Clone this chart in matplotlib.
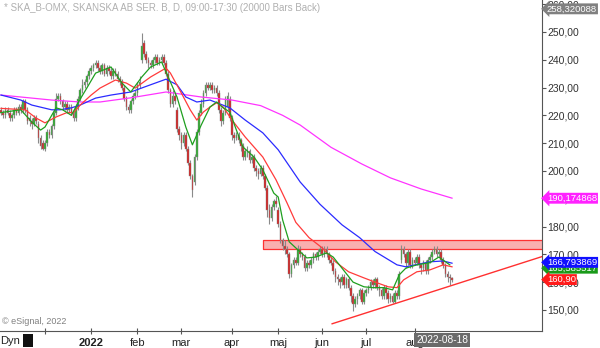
import matplotlib
matplotlib.use('Agg')
import matplotlib.pyplot as plt
import matplotlib.transforms as mtransforms

plt.rcParams['font.family'] = ['Liberation Sans', 'DejaVu Sans']

# daily candles, Nov 2021 - 2022-08-18
opens = [222, 221, 220, 222, 221, 219, 220, 222, 221, 223,
         222, 225, 222, 219, 218, 217, 219, 217, 212, 210,
         208, 210, 214, 213, 216, 221, 226, 227, 225, 223,
         224, 222, 223, 221, 219, 223, 226, 229, 231, 232,
         234, 236, 237, 238, 239, 237, 236, 238, 235, 237,
         236, 234, 236, 235, 233, 232, 230, 226, 223, 222,
         225, 227, 228, 231, 240, 246, 242, 240, 239, 238,
         240, 241, 239, 240, 241, 239, 235, 229, 224, 227,
         222, 215, 213, 210, 213, 208, 203, 198, 196, 205,
         214, 221, 224, 228, 231, 230, 231, 229, 230, 228,
         222, 218, 221, 223, 226, 219, 213, 212, 213, 211,
         209, 205, 207, 207, 204, 205, 201, 200, 199, 201,
         198, 194, 186, 183, 187, 189, 186, 181, 175, 173,
         172, 170, 163, 166, 168, 167, 172, 170, 169, 165,
         167, 166, 168, 170, 169, 171, 172, 170, 172, 170,
         168, 167, 164, 162, 161, 160, 162, 159, 161, 158,
         155, 152, 154, 155, 157, 153, 156, 157, 158, 160,
         159, 161, 158, 157, 155, 158, 156, 154, 155, 153,
         156, 155, 168, 172, 170, 167, 171, 166, 168, 167,
         169, 166, 165, 167, 164, 168, 169, 171, 172, 170,
         171, 168, 166, 163, 162, 161.5]
highs = [223, 222, 223, 223, 222, 221, 223, 223, 224, 224,
         226, 226, 223, 220, 219, 220, 220, 218, 213, 211,
         211, 215, 215, 217, 222, 228, 228, 228, 226, 225,
         225, 224, 224, 222, 224, 227, 230, 233, 233, 235,
         237, 238, 239, 240, 240, 238, 239, 239, 238, 238,
         237, 237, 237, 236, 234, 233, 231, 227, 224, 226,
         228, 229, 232, 234, 249.6, 247, 243, 241, 240, 241,
         242, 242, 241, 242, 242, 240, 236, 230, 229, 228,
         223, 216, 214, 214, 214, 209, 204, 199, 206, 215,
         222, 226, 229, 232, 232, 232, 232, 231, 231, 229,
         223, 222, 227, 228.5, 227, 220, 214, 214, 214, 212,
         210, 208, 209, 208, 206, 206, 202, 201, 202, 202,
         199, 195, 188, 188, 190, 191, 187, 182, 176, 175,
         173, 171, 167, 169, 169, 173.5, 173, 171, 170, 168,
         168, 169, 171, 171, 172, 173, 173, 173, 173, 171,
         169, 168, 165, 163, 162, 163, 163, 162, 162, 159,
         156, 155, 156, 158, 158, 157, 158, 159, 161, 161,
         162, 162, 159, 158, 159, 159, 157, 156, 156, 157,
         157, 164, 173.5, 173, 171, 172, 172, 169, 169, 170,
         170, 167, 168, 168, 169, 170, 172, 173, 173, 172,
         172, 169, 167, 164, 163, 162]
lows = [220, 219, 219, 220, 218, 218, 219, 220, 220, 221,
        221, 221, 217, 216, 215, 216, 217, 210, 208, 207.5,
        207, 209, 212, 212, 215, 220, 225, 224, 222, 222,
        221, 221, 220, 218, 218, 222, 225, 228, 230, 231,
        233, 235, 236, 237, 236, 235, 235, 234, 234, 235,
        233, 233, 234, 232, 231, 229, 225, 222, 221, 221,
        224, 226, 227, 230, 239, 241, 239, 237, 237, 237,
        239, 238, 238, 239, 238, 234, 228, 223, 223, 224,
        214, 211, 208, 209, 207, 202, 197, 190.6, 195, 204,
        213, 220, 223, 227, 229, 229, 228, 228, 227, 221,
        216, 217, 220, 222, 218, 211, 210, 211, 210, 207,
        204, 204, 205, 203, 203, 200, 198, 197, 198, 197,
        193, 183.5, 181, 182, 186, 187, 180, 174, 171.5, 170,
        169, 161.5, 162, 165, 166, 166, 169, 168, 164, 164,
        165, 165, 167, 168, 168, 170, 169, 169, 169, 167,
        166, 163, 160, 159, 158, 159, 158, 158, 157, 153,
        149.6, 151, 152, 154, 152, 152, 155, 156, 157, 158,
        158, 157, 155, 154, 154, 154, 152.5, 153, 152.5, 152.5,
        154, 154, 167, 169, 165, 166, 165, 165, 166, 166,
        165, 163, 164, 163, 163, 167, 168, 170, 169, 169,
        167, 165, 162, 160, 159, 160]
closes = [221, 220, 222, 221, 219, 220, 222, 221, 223, 222,
          225, 222, 218, 218, 217, 219, 218, 212, 209, 208,
          210, 214, 213, 216, 221, 226, 227, 225, 223, 224,
          222, 223, 221, 219, 223, 226, 229, 231, 232, 234,
          236, 237, 238, 239, 237, 236, 238, 235, 237, 236,
          234, 236, 235, 233, 232, 230, 226, 223, 222, 225,
          227, 228, 231, 232, 245, 242, 240, 239, 238, 240,
          241, 239, 240, 241, 239, 235, 229, 224, 227, 225,
          215, 213, 210, 213, 208, 203, 198, 193, 205, 214,
          221, 224, 228, 231, 230, 231, 229, 230, 228, 222,
          218, 221, 226, 227, 219, 213, 212, 213, 211, 209,
          205, 207, 207, 204, 205, 201, 200, 199, 201, 198,
          194, 186, 183, 187, 189, 188, 181, 175, 173, 172,
          170, 163, 166, 168, 167, 172, 170, 169, 165, 167,
          166, 168, 170, 169, 171, 172, 170, 172, 170, 168,
          167, 164, 162, 161, 160, 162, 159, 161, 158, 155,
          152, 154, 155, 157, 153, 156, 157, 158, 160, 159,
          161, 158, 157, 155, 158, 156, 154, 155, 153, 156,
          155, 163, 172, 170, 167, 171, 166, 168, 167, 169,
          166, 165, 167, 164, 168, 169, 171, 172, 170, 171,
          168, 166, 163, 162, 161.5, 160.9]

# moving averages, read at a few bars each (bar index, price)
ma10_idx = [0, 9, 14, 18, 20, 25, 28, 32, 35, 39, 43, 50, 55, 59, 64, 68, 73, 76,
            80, 84, 87, 91, 95, 98, 101, 104, 107, 110, 115, 119, 124, 126, 128,
            131, 134, 139, 143, 148, 151, 155, 160, 165, 169, 174, 178, 181, 184,
            189, 195, 199, 204]
ma10_val = [221, 222, 217.6, 214.7, 215.8, 222.7, 222, 220, 224.5, 229.8, 235.2,
            237.4, 231.6, 228.4, 233.8, 237.4, 239.2, 233.8, 226.6, 215.8, 209.4,
            216.5, 223, 224.8, 222.7, 221.2, 214.7, 208.6, 205, 200.4, 192, 190.6,
            182.4, 174.5, 172.3, 168.7, 169, 170.5, 169, 165, 160, 158.3, 158, 158,
            157.2, 162.6, 165, 166.2, 167, 169, 166.2]
ma20_idx = [0, 11, 16, 20, 25, 30, 33, 36, 41, 45, 52, 57, 61, 68, 75, 77, 82, 86,
            89, 92, 95, 98, 101, 105, 111, 119, 125, 130, 134, 140, 146, 152, 158,
            165, 170, 176, 180, 183, 189, 195, 201, 205]
ma20_val = [222.5, 222, 219, 217.3, 219.4, 221, 221, 223.7, 227.3, 229.8, 232.7,
            231.6, 229.8, 233.8, 237, 235.2, 228, 222, 218.3, 221.2, 223, 224.5,
            223, 218.3, 212.2, 205, 196.8, 188.5, 181.5, 176, 172.3, 167.3, 163.7,
            161.5, 160, 158.3, 158, 160.8, 163.7, 164.4, 166.2, 165.5]
ma50_idx = [0, 9, 14, 23, 27, 32, 36, 43, 50, 59, 68, 75, 80, 84, 89, 95, 104, 111,
            119, 126, 136, 145, 155, 163, 170, 180, 184, 195, 201, 205]
ma50_val = [227.3, 225.5, 223.7, 222, 222, 222.7, 223.7, 226.2, 227.3, 228.4, 231,
            233, 231, 226.6, 224.8, 225.5, 222.7, 218.3, 213.7, 207.6, 196, 188,
            180.6, 176, 171, 166.2, 165.5, 167.3, 167.6, 166.8]
ma200_idx = [0, 23, 36, 45, 59, 75, 91, 105, 118, 128, 136, 150, 164, 177, 191, 205]
ma200_val = [227.3, 225.5, 224.8, 224.8, 226.3, 228.4, 226.6, 225.5, 223.5, 220,
             216.5, 208.5, 202.5, 197.5, 193.5, 190.2]

month_starts = [20, 41, 62, 82, 105, 126, 146, 166, 188]
month_labels = ['', '2022', 'feb', 'mar', 'apr', 'maj', 'jun', 'jul', 'aug']

zone_start, zone_low, zone_high = 119, 171.9, 175.2
trend_x = [150.5, 246]
trend_y = [145.0, 169.2]

last_labels = [('258,320088', 258.32, '#808080'),
               ('190,174868', 190.17, '#ff22ff'),
               ('165,585517', 165.0, '#1a9a1a'),
               ('166,793869', 167.1, '#1010ff'),
               ('160,90', 160.9, '#ff1a1a')]

fig = plt.figure(figsize=(6, 3.48), dpi=100)
ax = fig.add_axes([0, 17 / 348, 542 / 600, 331 / 348])

idx = list(range(len(closes)))
# wicks
ax.vlines(idx, lows, highs, color='#8a8a8a', lw=0.8, zorder=2)
# bodies
for i, o, c in zip(idx, opens, closes):
    col = '#2eab2e' if c >= o else '#d42020'
    h = c - o if abs(c - o) > 0.3 else 0.3
    ax.bar(i, h, bottom=o, width=0.7, color=col, edgecolor='#8a8a8a',
           linewidth=0.3, zorder=3)

ax.plot(ma200_idx, ma200_val, color='#ff33ff', lw=0.9, zorder=4)
ax.plot(ma50_idx, ma50_val, color='#2b2bff', lw=0.9, zorder=4)
ax.plot(ma20_idx, ma20_val, color='#ff3b3b', lw=0.9, zorder=4)
ax.plot(ma10_idx, ma10_val, color='#1f9f1f', lw=0.9, zorder=4)

# resistance zone + support trendline
ax.fill_between([zone_start, 260], zone_low, zone_high, facecolor='#f9a8a8',
                edgecolor='#ff2020', lw=0.9, alpha=0.9, zorder=1)
ax.plot(trend_x, trend_y, color='#ff3030', lw=1.0, zorder=5)

ax.set_xlim(-0.45, 245.9)
ax.set_ylim(142.4, 261.5)

for s in ['top', 'left']:
    ax.spines[s].set_visible(False)
ax.spines['right'].set_color('#555555')
ax.spines['bottom'].set_color('#555555')

ax.yaxis.tick_right()
ax.set_yticks(range(150, 261, 10))
ax.set_yticklabels(['%d,00' % v for v in range(150, 261, 10)])
ax.tick_params(axis='y', direction='out', length=3, pad=1, labelsize=7.5,
               colors='#555555', labelcolor='#333333')
ax.set_xticks(month_starts)
ax.set_xticklabels(month_labels)
ax.tick_params(axis='x', direction='inout', length=4, pad=3, labelsize=8,
               colors='#555555', labelcolor='#222222')
ax.get_xticklabels()[1].set_fontweight('bold')

# value tags on the price scale
trans = mtransforms.blended_transform_factory(ax.transAxes, ax.transData)
for txt, val, col in last_labels:
    ax.text(1.009, val, txt, transform=trans, ha='left', va='center',
            fontsize=6.8, color='white', clip_on=False, zorder=10,
            bbox=dict(boxstyle='larrow,pad=0.1', facecolor=col,
                      edgecolor='none'))

fig.text(4 / 600, 1 - 8 / 348,
         '* SKA_B-OMX, SKANSKA AB SER. B, D, 09:00-17:30 (20000 Bars Back)',
         fontsize=7, color='#b0b0b0', va='center', ha='left')
fig.text(2 / 600, 1 - 322 / 348, '\u00a9 eSignal, 2022', fontsize=6.5,
         color='#808080', va='center', ha='left')
fig.text(0, 1 - 341 / 348, 'Dyn', fontsize=8, color='#222222', va='center',
         ha='left')
fig.patches.append(plt.Rectangle((23 / 600, 1 - 347 / 348), 10 / 600, 13 / 348,
                                 transform=fig.transFigure, facecolor='#111111',
                                 edgecolor='none'))
fig.text(442 / 600, 1 - 340 / 348, '2022-08-18', fontsize=7.3, color='white',
         va='center', ha='center', zorder=10,
         bbox=dict(boxstyle='square,pad=0.15', facecolor='#6a6a6a',
                   edgecolor='none'))

fig.savefig('out.png', dpi=100)
